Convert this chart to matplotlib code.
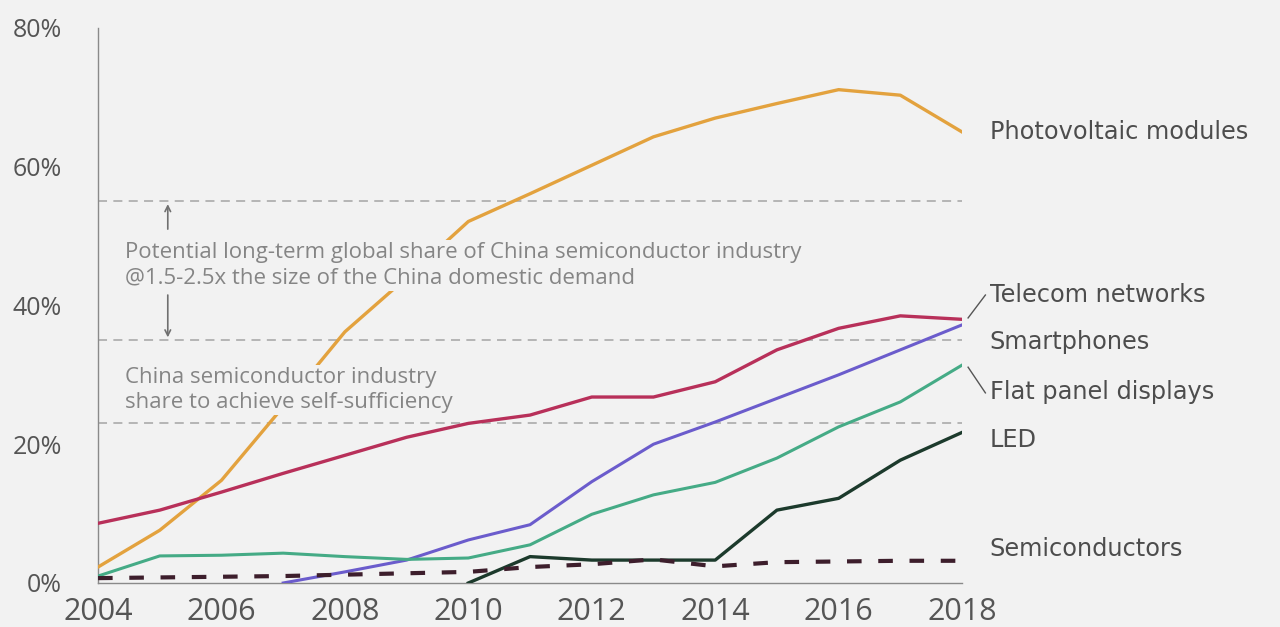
import numpy as np
import matplotlib.pyplot as plt

years = list(range(2004, 2019))
nan = np.nan

photovoltaic = [2.3, 7.6, 14.8, 25.4, 36.2, 44.0, 52.1, 56.1, 60.2, 64.3, 67.0, 69.1, 71.1, 70.3, 65.0]
telecom = [8.6, 10.5, 13.1, 15.8, 18.4, 21.0, 23.0, 24.2, 26.8, 26.8, 29.0, 33.6, 36.7, 38.5, 38.0]
smartphones = [nan, nan, nan, 0.0, 1.6, 3.3, 6.2, 8.4, 14.6, 20.0, 23.2, 26.6, 30.0, 33.6, 37.2]
flat_panel = [1.0, 3.9, 4.0, 4.3, 3.8, 3.4, 3.6, 5.5, 9.9, 12.7, 14.5, 18.0, 22.5, 26.1, 31.4]
led = [nan, nan, nan, nan, nan, nan, 0.0, 3.8, 3.3, 3.3, 3.3, 10.5, 12.2, 17.7, 21.7]
semis = [0.7, 0.8, 0.9, 1.0, 1.2, 1.4, 1.6, 2.3, 2.7, 3.4, 2.4, 3.0, 3.1, 3.2, 3.2]

ref_levels = [55, 35, 23]
y_ticks = [0, 20, 40, 60, 80]
x_ticks = [2004, 2006, 2008, 2010, 2012, 2014, 2016, 2018]

series_names = ['Photovoltaic modules', 'Telecom networks', 'Smartphones',
                'Flat panel displays', 'LED', 'Semiconductors']
name_y = [65.0, 41.5, 34.7, 27.5, 20.6, 4.9]

bg = '#f2f2f2'
plt.rcParams['font.family'] = ['Open Sans', 'DejaVu Sans']

fig = plt.figure(figsize=(12.8, 6.27), dpi=100, facecolor=bg)
ax = fig.add_axes([0.0766, 0.0702, 0.675, 0.8853], facecolor=bg)

for lvl in ref_levels:
    ax.axhline(lvl, color='#b0b0b0', lw=1.3, dashes=(5, 3.5), zorder=1)

ax.plot(years, photovoltaic, color='#e3a23e', lw=2.4, zorder=3)
ax.plot(years, telecom, color='#b8305a', lw=2.4, zorder=3)
ax.plot(years, smartphones, color='#6b5ccc', lw=2.2, zorder=3)
ax.plot(years, flat_panel, color='#45ab86', lw=2.2, zorder=3)
ax.plot(years, led, color='#1c3a2c', lw=2.4, zorder=3)
ax.plot(years, semis, color='#3d1e2c', lw=3, dashes=(3.5, 4), zorder=4)

ax.set_xlim(2004, 2018)
ax.set_ylim(0, 80)
ax.set_xticks(x_ticks)
ax.set_yticks(y_ticks)
ax.set_yticklabels([f'{v}%' for v in y_ticks])
ax.tick_params(axis='y', length=0, pad=26, labelsize=18, labelcolor='#555555')
ax.tick_params(axis='x', length=0, pad=10, labelsize=22, labelcolor='#555555')
for side in ('top', 'right'):
    ax.spines[side].set_visible(False)
for side in ('left', 'bottom'):
    ax.spines[side].set_color('#8a8a8a')
    ax.spines[side].set_linewidth(1.0)

# notes about the dashed reference levels, boxed so the lines break behind them
note_box = dict(facecolor=bg, edgecolor='none', pad=1.5)
ax.text(2004.43, 45.8,
        'Potential long-term global share of China semiconductor industry\n'
        '@1.5-2.5x the size of the China domestic demand',
        fontsize=16, color='#858585', va='center', ha='left',
        linespacing=1.3, bbox=note_box, zorder=5)
ax.text(2004.43, 27.8,
        'China semiconductor industry\nshare to achieve self-sufficiency',
        fontsize=16, color='#858585', va='center', ha='left',
        linespacing=1.2, bbox=note_box, zorder=5)

ax.annotate('', xy=(2005.13, 55), xytext=(2005.13, 50.6),
            arrowprops=dict(arrowstyle='->', color='#707070', lw=1.2))
ax.annotate('', xy=(2005.13, 35), xytext=(2005.13, 41.9),
            arrowprops=dict(arrowstyle='->', color='#707070', lw=1.2))

# series names at the right end
edge = ax.get_yaxis_transform()
for name, yv in zip(series_names, name_y):
    ax.text(1.032, yv, name, family='DejaVu Sans', fontsize=17.3,
            color='#4d4d4d', va='center', ha='left',
            transform=edge, clip_on=False)

ax.plot([1.007, 1.027], [38.2, 41.5], color='#555555', lw=1,
        transform=edge, clip_on=False)
ax.plot([1.007, 1.027], [31.1, 27.4], color='#555555', lw=1,
        transform=edge, clip_on=False)

fig.savefig('out.png', dpi=100, facecolor=bg)
